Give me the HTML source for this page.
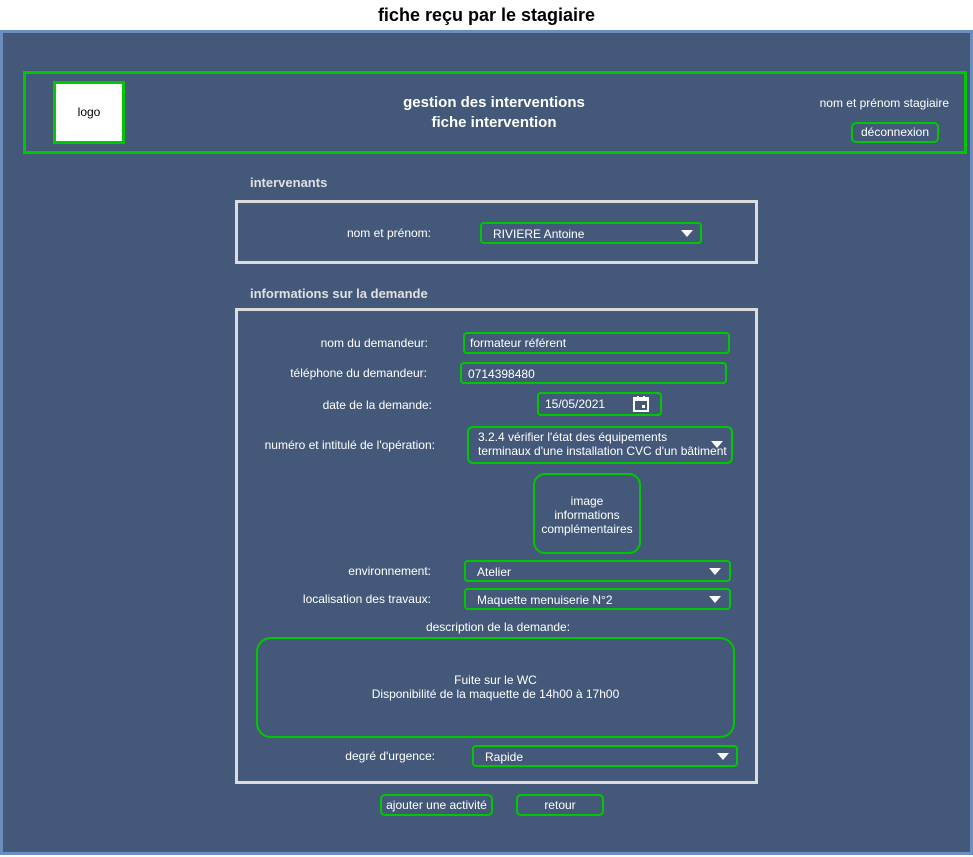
<!DOCTYPE html>
<html><head><meta charset="utf-8">
<style>
*{box-sizing:border-box;margin:0;padding:0}
body{width:973px;height:857px;background:#fff;position:relative;overflow:hidden;font-family:"Liberation Sans",Arial,sans-serif;color:#fff;font-size:12px}
.a{position:absolute}
.g{position:absolute;border:2px solid #00c800;border-radius:4px}
.lbl{position:absolute;text-align:right;width:300px;font-size:12px;line-height:14px}
.txt{position:absolute;font-size:12px;line-height:14px}
.arr{position:absolute;width:0;height:0;border-left:6px solid transparent;border-right:6px solid transparent;border-top:7px solid #fff}
.h{position:absolute;font-weight:bold;font-size:13px;color:#e0e0e0}
</style></head><body>
<div class="a" style="left:0;top:5px;width:973px;text-align:center;color:#000;font-weight:bold;font-size:18px;line-height:20px">fiche reçu par le stagiaire</div>
<div class="a" style="left:0;top:30px;width:973px;height:825px;background:#44597a;border:3px solid #6c8ebf"></div>
<div class="a" style="left:23px;top:71px;width:944px;height:83px;border:3px solid #00c800"></div>
<div class="a" style="left:53px;top:81px;width:72px;height:63px;background:#fff;border:3px solid #00c800;color:#000;text-align:center;line-height:57px;font-size:12px">logo</div>
<div class="a" style="left:344px;top:93px;width:300px;text-align:center;font-weight:bold;font-size:15px;line-height:20px">gestion des interventions<br>fiche intervention</div>
<div class="txt" style="left:760px;top:96px;width:189px;text-align:right">nom et prénom stagiaire</div>
<div class="g" style="left:851px;top:122px;width:88px;height:21px;border-radius:5px;text-align:center;line-height:17px">déconnexion</div>
<div class="h" style="left:250px;top:175px">intervenants</div>
<div class="a" style="left:235px;top:200px;width:523px;height:64px;border:3px solid #dcdcdc"></div>
<div class="lbl" style="left:131px;top:226px">nom et prénom:</div>
<div class="g" style="left:480px;top:222px;width:222px;height:22px"></div>
<div class="txt" style="left:493px;top:227px">RIVIERE Antoine</div>
<div class="arr" style="left:681px;top:230px"></div>
<div class="h" style="left:250px;top:286px">informations sur la demande</div>
<div class="a" style="left:235px;top:308px;width:523px;height:476px;border:3px solid #dcdcdc"></div>
<div class="lbl" style="left:128px;top:336px">nom du demandeur:</div>
<div class="g" style="left:463px;top:332px;width:267px;height:22px"></div>
<div class="txt" style="left:470px;top:336px">formateur référent</div>
<div class="lbl" style="left:127px;top:366px">téléphone du demandeur:</div>
<div class="g" style="left:460px;top:362px;width:267px;height:22px"></div>
<div class="txt" style="left:468px;top:367px">0714398480</div>
<div class="lbl" style="left:132px;top:398px">date de la demande:</div>
<div class="g" style="left:537px;top:392px;width:125px;height:24px"></div>
<div class="txt" style="left:545px;top:397px">15/05/2021</div>
<svg class="a" style="left:632px;top:395px" width="18" height="18" viewBox="0 0 18 18"><rect x="2" y="3" width="14" height="13" fill="none" stroke="#fff" stroke-width="2"/><rect x="2" y="3" width="14" height="3" fill="#fff"/><rect x="5" y="1" width="2" height="3" fill="#fff"/><rect x="11" y="1" width="2" height="3" fill="#fff"/><rect x="10" y="10" width="3" height="3" fill="#fff"/></svg>
<div class="lbl" style="left:135px;top:438px">numéro et intitulé de l'opération:</div>
<div class="g" style="left:467px;top:426px;width:266px;height:38px;border-radius:6px"></div>
<div class="txt" style="left:478px;top:430px;line-height:14px">3.2.4 vérifier l'état des équipements<br>terminaux d'une installation CVC d'un bâtiment</div>
<div class="arr" style="left:711px;top:441px"></div>
<div class="g" style="left:533px;top:473px;width:108px;height:81px;border-radius:12px;text-align:center;padding-top:19px;line-height:14px">image<br>informations<br>complémentaires</div>
<div class="lbl" style="left:131px;top:564px">environnement:</div>
<div class="g" style="left:464px;top:560px;width:267px;height:22px"></div>
<div class="txt" style="left:477px;top:565px">Atelier</div>
<div class="arr" style="left:709px;top:568px"></div>
<div class="lbl" style="left:131px;top:592px">localisation des travaux:</div>
<div class="g" style="left:464px;top:588px;width:267px;height:22px"></div>
<div class="txt" style="left:477px;top:593px">Maquette menuiserie N°2</div>
<div class="arr" style="left:709px;top:596px"></div>
<div class="txt" style="left:348px;top:620px;width:300px;text-align:center">description de la demande:</div>
<div class="g" style="left:256px;top:637px;width:479px;height:101px;border-radius:15px;text-align:center;padding-top:34px;line-height:14px">Fuite sur le WC<br>Disponibilité de la maquette de 14h00 à 17h00</div>
<div class="lbl" style="left:135px;top:749px">degré d'urgence:</div>
<div class="g" style="left:472px;top:745px;width:266px;height:22px"></div>
<div class="txt" style="left:485px;top:750px">Rapide</div>
<div class="arr" style="left:717px;top:753px"></div>
<div class="g" style="left:380px;top:794px;width:113px;height:22px;border-radius:5px;text-align:center;line-height:18px">ajouter une activité</div>
<div class="g" style="left:516px;top:794px;width:88px;height:22px;border-radius:5px;text-align:center;line-height:18px">retour</div>
</body></html>
